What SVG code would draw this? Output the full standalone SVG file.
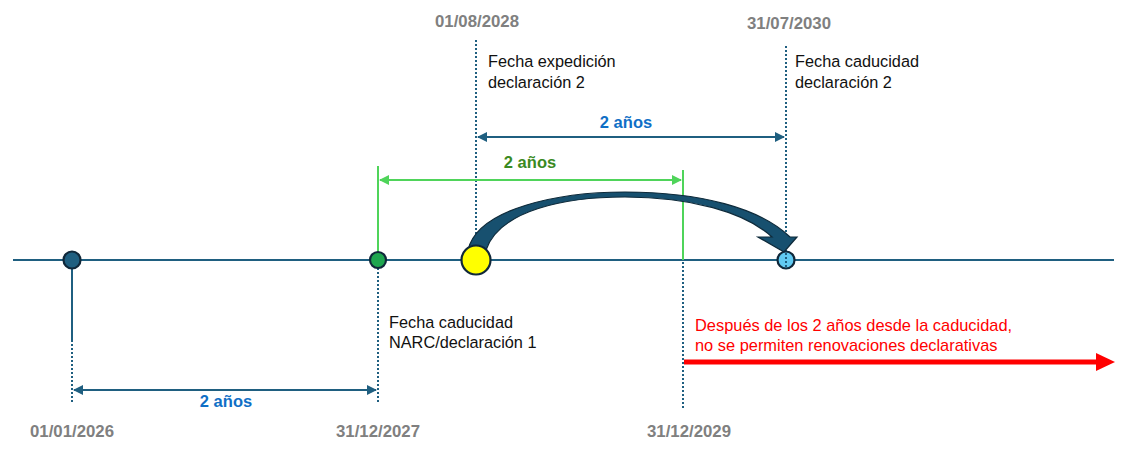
<svg xmlns="http://www.w3.org/2000/svg" width="1140" height="451" viewBox="0 0 1140 451">
<style>
.date{font-family:"Liberation Sans",Arial,sans-serif;font-weight:bold;font-size:16.8px;fill:#808080;text-anchor:middle}
.lbl{font-family:"Liberation Sans",Arial,sans-serif;font-size:16.3px;fill:#111111}
.dimb{font-family:"Liberation Sans",Arial,sans-serif;font-weight:bold;font-size:16.5px;fill:#0f6fc6;text-anchor:middle}
.dimg{font-family:"Liberation Sans",Arial,sans-serif;font-weight:bold;font-size:16.5px;fill:#3a8a22;text-anchor:middle}
.red{font-family:"Liberation Sans",Arial,sans-serif;font-size:16.4px;fill:#ff0000}
.dot{stroke:#1f5f80;stroke-width:2;stroke-dasharray:2 2;fill:none}
.sol{stroke:#1f5f80;stroke-width:2;fill:none}
.gr{stroke:#4fd45a;stroke-width:2;fill:none}
.node{stroke:#10283a;stroke-width:2.2}
</style>
<defs>
<marker id="ab" viewBox="0 0 10 10" refX="9" refY="5" markerWidth="5" markerHeight="5" orient="auto-start-reverse" markerUnits="strokeWidth"><path d="M0,0 L10,5 L0,10 Z" fill="#1f5f80"/></marker>
<marker id="ag" viewBox="0 0 10 10" refX="9" refY="5" markerWidth="5" markerHeight="5" orient="auto-start-reverse" markerUnits="strokeWidth"><path d="M0,0 L10,5 L0,10 Z" fill="#4fd45a"/></marker>
</defs>
<rect width="1140" height="451" fill="#ffffff"/>
<g id="connectors">
<line class="sol" x1="13" y1="260" x2="1114" y2="260"/>
<line class="sol" x1="72" y1="260" x2="72" y2="342"/>
<line class="dot" x1="72" y1="344" x2="72" y2="404"/>
<line class="gr" x1="378" y1="166" x2="378" y2="260"/>
<line class="dot" x1="378" y1="268" x2="378" y2="404"/>
<line class="gr" x1="683" y1="170" x2="683" y2="260"/>
<line class="dot" x1="683" y1="262" x2="683" y2="408"/>
<line class="dot" x1="476" y1="40" x2="476" y2="245"/>
<line class="dot" x1="786" y1="46" x2="786" y2="268"/>
<line class="sol" x1="74" y1="390" x2="376" y2="390" marker-start="url(#ab)" marker-end="url(#ab)"/>
<line class="sol" x1="478" y1="137" x2="784" y2="137" marker-start="url(#ab)" marker-end="url(#ab)"/>
<line class="gr" x1="380" y1="180" x2="681" y2="180" marker-start="url(#ag)" marker-end="url(#ag)"/>
<path d="M468,250 C478,208 560,192 625,192 C700,192 760,208 790,237 L797,237 L784,252 L758,237 L772,237 C745,212 690,197 625,197 C565,197 500,210 486,250 Z" fill="#17506f" stroke="#0e2a3a" stroke-width="1.2"/>
<rect x="684" y="359.5" width="414" height="5" fill="#ff0000"/>
<path d="M1096,353 L1115,362 L1096,371 Z" fill="#ff0000"/>
</g>
<g id="n1"><circle class="node" cx="72" cy="260" r="8.5" fill="#1f5f80"/><text class="date" x="72" y="437">01/01/2026</text></g>
<g id="n2"><circle class="node" cx="378" cy="260" r="8" fill="#1ea64f"/><text class="date" x="378" y="437">31/12/2027</text>
<text class="lbl" x="389" y="328">Fecha caducidad</text><text class="lbl" x="389" y="348">NARC/declaración 1</text></g>
<g id="n3"><circle class="node" cx="476" cy="260" r="14.5" fill="#ffff00"/><text class="date" x="477" y="27">01/08/2028</text>
<text class="lbl" x="488" y="67">Fecha expedición</text><text class="lbl" x="488" y="88">declaración 2</text></g>
<g id="n4"><circle class="node" cx="786" cy="260" r="8.5" fill="#61caf2"/><line class="dot" x1="786" y1="253" x2="786" y2="268"/><text class="date" x="789" y="29">31/07/2030</text>
<text class="lbl" x="795" y="67">Fecha caducidad</text><text class="lbl" x="795" y="88">declaración 2</text></g>
<g id="n5"><text class="date" x="689" y="437">31/12/2029</text>
<text class="red" x="695" y="331">Después de los 2 años desde la caducidad,</text><text class="red" x="695" y="351">no se permiten renovaciones declarativas</text></g>
<g id="dims"><text class="dimb" x="226" y="407">2 años</text><text class="dimb" x="626" y="128">2 años</text><text class="dimg" x="530" y="168">2 años</text></g>
</svg>
